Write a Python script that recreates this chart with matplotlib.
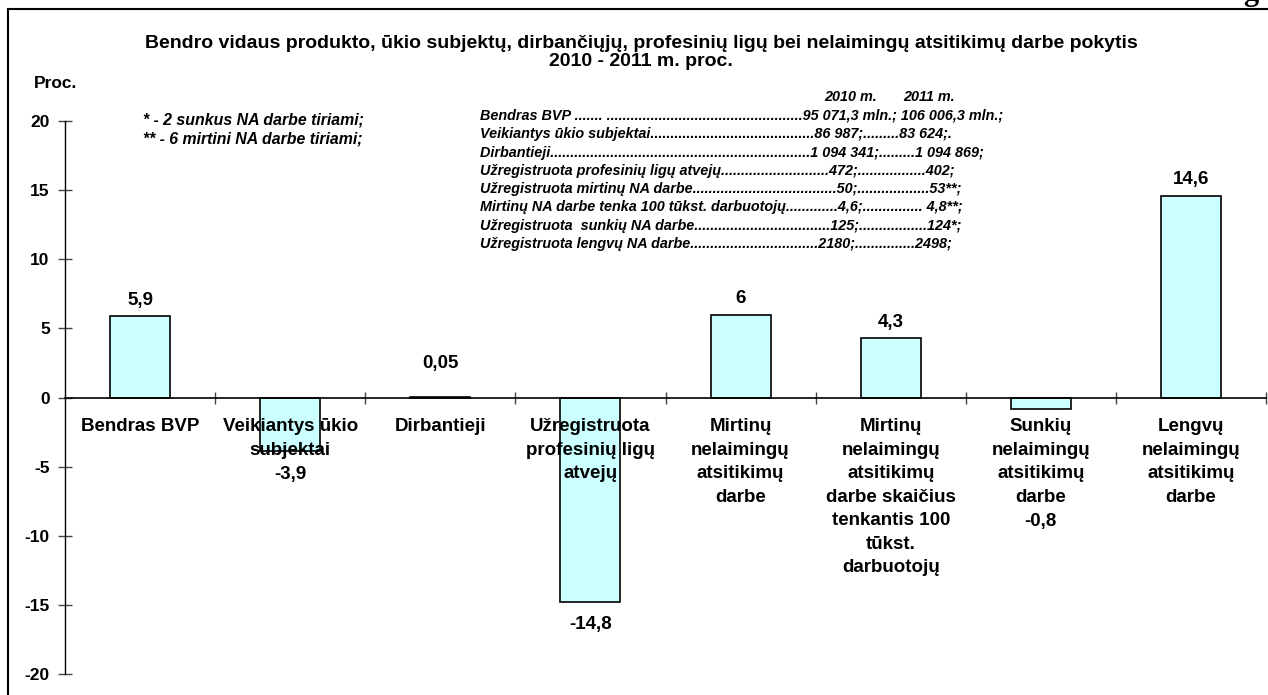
import matplotlib.pyplot as plt
import numpy as np

plt.rcParams['font.family'] = ['Liberation Sans', 'DejaVu Sans']

# data
categories = ['Bendras BVP',
              'Veikiantys ūkio\nsubjektai',
              'Dirbantieji',
              'Užregistruota\nprofesinių ligų\natvejų',
              'Mirtinų\nnelaimingų\natsitikimų\ndarbe',
              'Mirtinų\nnelaimingų\natsitikimų\ndarbe skaičius\ntenkantis 100\ntūkst.\ndarbuotojų',
              'Sunkių\nnelaimingų\natsitikimų\ndarbe',
              'Lengvų\nnelaimingų\natsitikimų\ndarbe']
change = [5.9, -3.9, 0.05, -14.8, 6, 4.3, -0.8, 14.6]
yticks = [-20, -15, -10, -5, 0, 5, 10, 15, 20]

title1 = 'Bendro vidaus produkto, ūkio subjektų, dirbančiųjų, profesinių ligų bei nelaimingų atsitikimų darbe pokytis'
title2 = '2010 - 2011 m. proc.'
notes = ['* - 2 sunkus NA darbe tiriami;', '** - 6 mirtini NA darbe tiriami;']
table_head = ['2010 m.', '2011 m.']
table_rows = [
    'Bendras BVP ....... ' + '.' * 49 + '95 071,3 mln.; 106 006,3 mln.;',
    'Veikiantys ūkio subjektai' + '.' * 41 + '86 987;' + '.' * 9 + '83 624;.',
    'Dirbantieji' + '.' * 65 + '1 094 341;' + '.' * 9 + '1 094 869;',
    'Užregistruota profesinių ligų atvejų' + '.' * 27 + '472;' + '.' * 17 + '402;',
    'Užregistruota mirtinų NA darbe' + '.' * 36 + '50;' + '.' * 18 + '53**;',
    'Mirtinų NA darbe tenka 100 tūkst. darbuotojų' + '.' * 13 + '4,6;' + '.' * 15 + ' 4,8**;',
    'Užregistruota  sunkių NA darbe' + '.' * 34 + '125;' + '.' * 17 + '124*;',
    'Užregistruota lengvų NA darbe' + '.' * 32 + '2180;' + '.' * 15 + '2498;',
]

W, H = 1268, 695
fig = plt.figure(figsize=(12.68, 6.95), dpi=100)
ax = fig.add_axes([65 / W, 1 - 674 / H, (1266 - 65) / W, (674 - 121) / H])

x = np.arange(len(change))
ax.bar(x, change, width=0.4, color='#CCFFFF', edgecolor='black', linewidth=1.2, zorder=2)
ax.set_xlim(-0.5, 7.5)
ax.set_ylim(-20, 20)

for s in ['top', 'right']:
    ax.spines[s].set_visible(False)
ax.spines['bottom'].set_position(('data', 0))
ax.spines['bottom'].set_linewidth(1.2)
ax.spines['left'].set_linewidth(1.0)
ax.set_xticks(np.arange(0.5, 8, 1))
ax.set_xticklabels([])
ax.tick_params(axis='x', direction='inout', length=9, width=1, color='#444444')
ax.set_yticks(yticks)
ax.set_yticklabels([str(t) for t in yticks], fontsize=12.5, fontweight='bold')
ax.tick_params(axis='y', direction='inout', length=10, width=1, pad=6, color='#444444')

# category labels under the zero line
line = 1.72
for i, lab in enumerate(categories):
    ax.text(i, -1.5, lab, ha='center', va='top', fontsize=13.5, fontweight='bold',
            linespacing=1.5, zorder=3)

# value labels (negative ones go below the bar or below the category text)
for i, v in enumerate(change):
    txt = '{:g}'.format(v).replace('.', ',')
    if v >= 0:
        y = max(v, 1.3) + 1.15
    else:
        n = categories[i].count('\n') + 1
        y = min(v - 1.65, -2.1 - n * line)
    ax.text(i, y, txt, ha='center', va='center', fontsize=13.5, fontweight='bold')

# titles and notes
fig.text(641 / W, 1 - 44 / H, title1, ha='center', va='center', fontsize=14, fontweight='bold')
fig.text(641 / W, 1 - 62 / H, title2, ha='center', va='center', fontsize=14, fontweight='bold')
fig.text(56 / W, 1 - 83 / H, 'Proc.', ha='center', va='center', fontsize=12.5, fontweight='bold')
for k, t in enumerate(notes):
    fig.text(143 / W, 1 - (120 + 19 * k) / H, t, ha='left', va='center', fontsize=11.4,
             fontweight='bold', fontstyle='italic')

fig.text(824 / W, 1 - 97 / H, table_head[0], ha='left', va='center', fontsize=10.4,
         fontweight='bold', fontstyle='italic')
fig.text(903 / W, 1 - 97 / H, table_head[1], ha='left', va='center', fontsize=10.4,
         fontweight='bold', fontstyle='italic')
for k, r in enumerate(table_rows):
    fig.text(480 / W, 1 - (116 + 18.3 * k) / H, r, ha='left', va='center', fontsize=10.4,
             fontweight='bold', fontstyle='italic')

# page frame
fig.add_artist(plt.Line2D([8 / W, 8 / W], [0, 1 - 9 / H], transform=fig.transFigure,
                          color='black', linewidth=1.5))
fig.add_artist(plt.Line2D([8 / W, 1], [1 - 9 / H, 1 - 9 / H], transform=fig.transFigure,
                          color='black', linewidth=1.5))
fig.text(1251 / W, 1.0, 'g', ha='center', va='baseline', fontsize=22,
         family='Liberation Serif', fontweight='bold')

fig.savefig('out.png', dpi=100)
